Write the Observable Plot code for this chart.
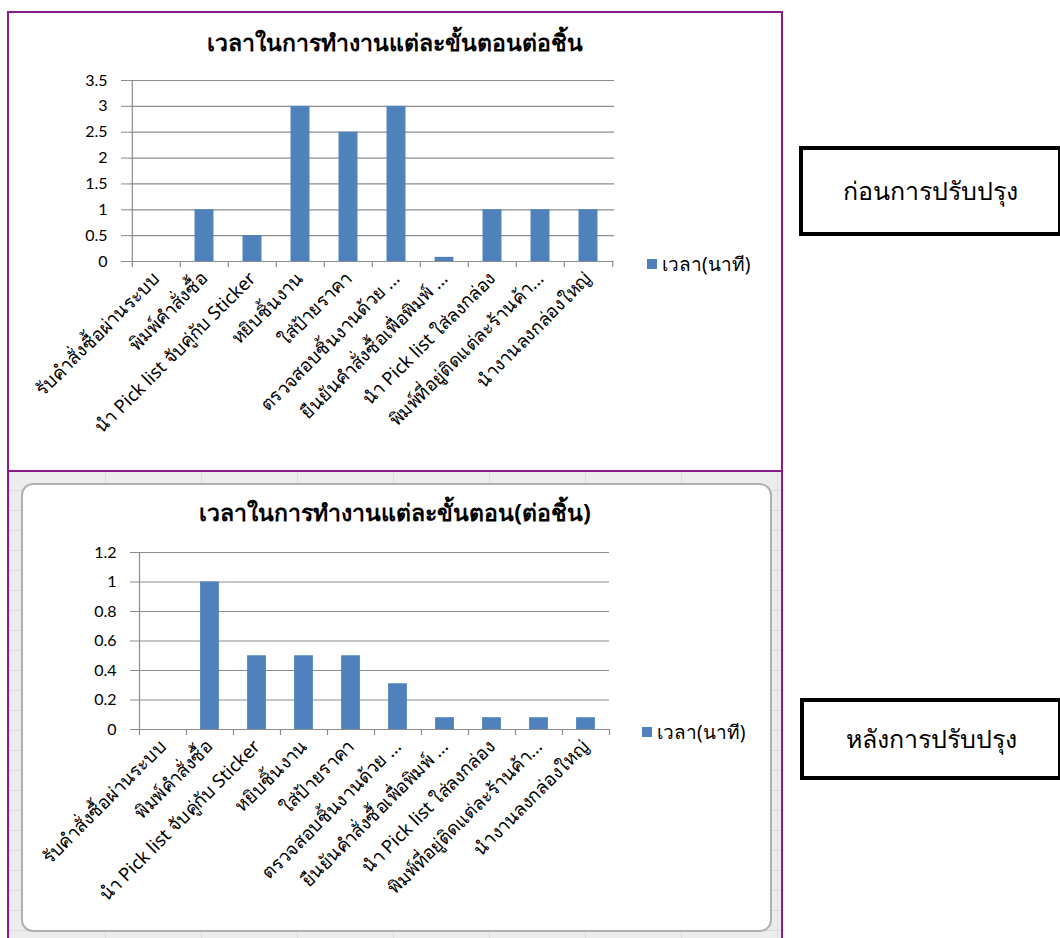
<!DOCTYPE html>
<html>
<head>
<meta charset="utf-8">
<script src="https://cdn.jsdelivr.net/npm/d3@7"></script>
<script src="https://cdn.jsdelivr.net/npm/@observablehq/plot@0.6"></script>
<style>
  html, body { margin: 0; padding: 0; background: #fff; }
  #page { position: relative; width: 1060px; height: 938px; overflow: hidden; background: #fff; font-family: "Noto Sans", "DejaVu Sans", sans-serif; }
  .abs { position: absolute; }
  .frame { position: absolute; border: 2px solid #8a1c8a; box-sizing: border-box; }
  .title { position: absolute; width: 790px; left: 0; text-align: center; font-weight: bold; font-size: 23px; color: #000; }
  .legend { position: absolute; font-size: 19px; color: #000; display: flex; align-items: center; }
  .legend i { display: inline-block; width: 10px; height: 10px; background: #4f81bd; margin-right: 5px; }
  .box { position: absolute; border: 4px solid #000; box-sizing: border-box; display: flex; align-items: center; justify-content: center; font-family: "Liberation Serif", "DejaVu Serif", serif; font-size: 25px; color: #000; background: #fff; }
</style>
</head>
<body>
<div id="page"></div>
<script>
// ---- data ----
const categories = [
  "รับคำสั่งซื้อผ่านระบบ",
  "พิมพ์คำสั่งซื้อ",
  "นำ Pick list จับคู่กับ Sticker",
  "หยิบชิ้นงาน",
  "ใส่ป้ายราคา",
  "ตรวจสอบชิ้นงานด้วย ...",
  "ยืนยันคำสั่งซื้อเพื่อพิมพ์ ...",
  "นำ Pick list ใส่ลงกล่อง",
  "พิมพ์ที่อยู่ติดแต่ละร้านค้า...",
  "นำงานลงกล่องใหญ่"
];
const beforeValues = [0, 1, 0.5, 3, 2.5, 3, 0.08, 1, 1, 1];
const afterValues  = [0, 1, 0.5, 0.5, 0.5, 0.31, 0.08, 0.08, 0.08, 0.08];
const beforeTicks = [0, 0.5, 1, 1.5, 2, 2.5, 3, 3.5];
const afterTicks  = [0, 0.2, 0.4, 0.6, 0.8, 1, 1.2];
const beforeTitle = "เวลาในการทำงานแต่ละขั้นตอนต่อชิ้น";
const afterTitle  = "เวลาในการทำงานแต่ละขั้นตอน(ต่อชิ้น)";
const seriesName = "เวลา(นาที)";
const beforeLabel = "ก่อนการปรับปรุง";
const afterLabel  = "หลังการปรับปรุง";

(function () {
const page = document.getElementById("page");
function add(html) { page.insertAdjacentHTML("beforeend", html); }

// bottom worksheet background
add(`<div class="abs" style="left:9px;top:470px;width:772px;height:468px;background:#ededed;
  background-image:linear-gradient(#dcdcdc 1px, transparent 1px),linear-gradient(90deg,#dcdcdc 1px, transparent 1px);
  background-size:100% 20px, 96px 100%;"></div>`);
add(`<div class="abs" style="left:21px;top:483px;width:751px;height:449px;background:#fff;border:2px solid #b0b0b0;border-radius:12px;box-sizing:border-box;"></div>`);

function chart({values, ticks, ymax, width, height, ml, mr, mt, mb}) {
  const data = categories.map((c, i) => ({c, v: values[i]}));
  const bw = (width - ml - mr) / categories.length;
  return Plot.plot({
    width, height,
    marginLeft: ml, marginRight: mr, marginTop: mt, marginBottom: mb,
    style: {background: "transparent", fontFamily: "Lato, 'Noto Sans', sans-serif", color: "#000", overflow: "visible"},
    x: {domain: categories, padding: 0, label: null},
    y: {domain: [0, ymax], label: null},
    marks: [
      Plot.ruleY(ticks, {stroke: "#8c8c8c", strokeWidth: 1.2}),
      Plot.axisY({ticks, tickSize: 9, tickPadding: 14, stroke: "#8c8c8c", fontSize: 16, tickFormat: d => String(d)}),
      Plot.ruleX([categories[0]], {dx: -bw / 2, y1: 0, y2: ymax, stroke: "#8c8c8c", strokeWidth: 1.2}),
      Plot.ruleX(categories, {dx: -bw / 2, y1: 0, y2: 0, insetBottom: -6, stroke: "#8c8c8c", strokeWidth: 1.2}),
      Plot.ruleX([categories[categories.length - 1]], {dx: bw / 2, y1: 0, y2: 0, insetBottom: -6, stroke: "#8c8c8c", strokeWidth: 1.2}),
      Plot.barY(data, {x: "c", y: "v", fill: "#4f81bd", insetLeft: bw * 0.3, insetRight: bw * 0.3}),
      Plot.axisX({tickSize: 0, tickPadding: 14, tickRotate: -45, fontSize: 18.5, fontFamily: "'Noto Sans', sans-serif", fill: "#000"})
    ]
  });
}

const topChart = chart({values: beforeValues, ticks: beforeTicks, ymax: 3.5, width: 790, height: 470, ml: 130, mr: 176, mt: 80, mb: 209});
topChart.style.position = "absolute"; topChart.style.left = "0px"; topChart.style.top = "0px";
page.appendChild(topChart);

const botChart = chart({values: afterValues, ticks: afterTicks, ymax: 1.2, width: 790, height: 468, ml: 139, mr: 181, mt: 82, mb: 209});
botChart.style.position = "absolute"; botChart.style.left = "0px"; botChart.style.top = "470px";
page.appendChild(botChart);

// frames
add(`<div class="frame" style="left:7px;top:11px;width:776px;height:461px;"></div>`);
add(`<div class="frame" style="left:7px;top:470px;width:776px;height:480px;"></div>`);

// titles
add(`<div class="title" style="top:25px;">${beforeTitle}</div>`);
add(`<div class="title" style="top:495px;">${afterTitle}</div>`);

// legends
add(`<div class="legend" style="left:647px;top:249px;"><i></i>${seriesName}</div>`);
add(`<div class="legend" style="left:642px;top:717px;"><i></i>${seriesName}</div>`);

// side boxes
add(`<div class="box" style="left:799px;top:146px;width:263px;height:90px;">${beforeLabel}</div>`);
add(`<div class="box" style="left:800px;top:698px;width:262px;height:82px;">${afterLabel}</div>`);
})();
</script>
</body>
</html>
